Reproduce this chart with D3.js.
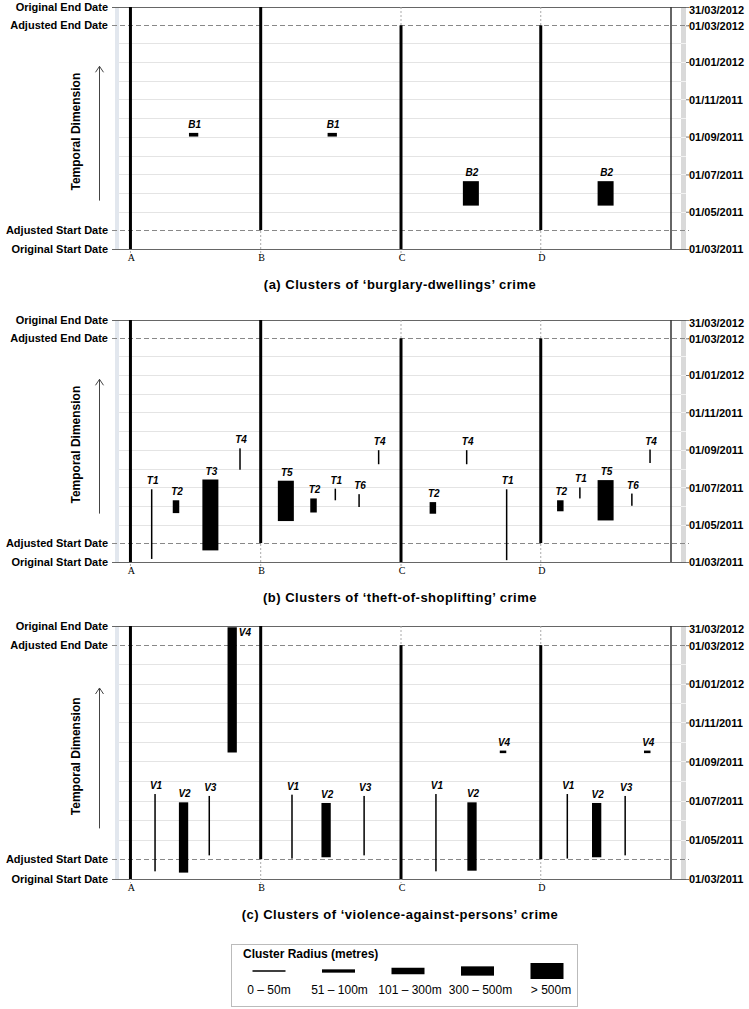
<!DOCTYPE html>
<html><head><meta charset="utf-8">
<script src="https://cdn.jsdelivr.net/npm/d3@7"></script>
<style>
html,body{margin:0;padding:0;background:#fff;}
svg{display:block;font-family:Arial,"Liberation Sans",sans-serif;}
</style></head>
<body>
<svg id="chart" width="749" height="1009"></svg>
<script>
// ---------------- DATA ----------------
const originalStart = "2011-03-01";
const originalEnd   = "2012-03-31";
const adjustedStart = "2011-04-01";
const adjustedEnd   = "2012-03-01";

const boundaryLabels = ["Original End Date","Adjusted End Date","Adjusted Start Date","Original Start Date"];
const boundaryDates  = [originalEnd, adjustedEnd, adjustedStart, originalStart];

const rightTickLabels = ["31/03/2012","01/03/2012","01/01/2012","01/11/2011","01/09/2011","01/07/2011","01/05/2011","01/03/2011"];

const sections = ["A","B","C","D"];
const sectionPositions = [3.3, 26.6, 51.7, 76.7];   // horizontal position (0-100 units)
const sectionStarts = [originalStart, adjustedStart, originalStart, adjustedStart];
const sectionEnds   = [originalEnd,   originalEnd,   adjustedEnd,   adjustedEnd];

const radiusClasses = ["0 – 50m","51 – 100m","101 – 300m","300 – 500m","> 500m"];

const captions = [
  "(a) Clusters of \u2018burglary-dwellings\u2019 crime",
  "(b) Clusters of \u2018theft-of-shoplifting\u2019 crime",
  "(c) Clusters of \u2018violence-against-persons\u2019 crime"
];

// cluster: label, position (0-100), start date, end date, radius class index
const burglaryClusters = [
  ["B1", 14.6, "2011-09-01", "2011-09-07", 3],
  ["B1", 39.4, "2011-09-01", "2011-09-07", 3],
  ["B2", 64.2, "2011-05-11", "2011-06-20", 4],
  ["B2", 88.3, "2011-05-11", "2011-06-20", 4]
];
const theftClusters = [
  ["T1",  7.1,  "2011-03-06", "2011-06-28", 0],
  ["T2", 11.45, "2011-05-20", "2011-06-10", 2],
  ["T3", 17.6,  "2011-03-20", "2011-07-14", 4],
  ["T4", 22.9,  "2011-07-30", "2011-09-03", 0],
  ["T5", 31.1,  "2011-05-07", "2011-07-12", 4],
  ["T2", 36.05, "2011-05-21", "2011-06-13", 2],
  ["T1", 39.95, "2011-06-10", "2011-06-29", 0],
  ["T6", 44.2,  "2011-05-30", "2011-06-20", 0],
  ["T4", 47.7,  "2011-08-08", "2011-08-31", 0],
  ["T2", 57.4,  "2011-05-19", "2011-06-07", 2],
  ["T4", 63.45, "2011-08-08", "2011-08-31", 0],
  ["T1", 70.6,  "2011-03-04", "2011-06-28", 0],
  ["T2", 80.2,  "2011-05-23", "2011-06-10", 2],
  ["T1", 83.7,  "2011-06-13", "2011-07-01", 0],
  ["T5", 88.3,  "2011-05-08", "2011-07-13", 4],
  ["T6", 93.0,  "2011-06-01", "2011-06-21", 0],
  ["T4", 96.25, "2011-08-10", "2011-09-01", 0]
];
const violenceClusters = [
  ["V1",  7.7,  "2011-03-13", "2011-07-12", 0],
  ["V2", 12.8,  "2011-03-11", "2011-06-29", 3],
  ["V3", 17.4,  "2011-04-07", "2011-07-09", 0],
  ["V4", 21.5,  "2011-09-15", "2012-03-29", 3],
  ["V1", 32.2,  "2011-04-02", "2011-07-11", 0],
  ["V2", 38.3,  "2011-04-04", "2011-06-28", 3],
  ["V3", 45.1,  "2011-04-07", "2011-07-09", 0],
  ["V1", 57.95, "2011-03-13", "2011-07-12", 0],
  ["V2", 64.4,  "2011-03-14", "2011-06-29", 3],
  ["V4", 69.95, "2011-09-14", "2011-09-18", 2],
  ["V1", 81.45, "2011-04-02", "2011-07-12", 0],
  ["V2", 86.7,  "2011-04-04", "2011-06-28", 3],
  ["V3", 91.8,  "2011-04-07", "2011-07-09", 0],
  ["V4", 95.75, "2011-09-14", "2011-09-18", 2]
];
const panelData = [burglaryClusters, theftClusters, violenceClusters];

// ---------------- LAYOUT ----------------
const svg = d3.select("#chart");
const parseISO = d3.timeParse("%Y-%m-%d");
const parseDMY = d3.timeParse("%d/%m/%Y");
const panels = [{top:7,bottom:249},{top:320,bottom:562},{top:626,bottom:879}];
const x = d3.scaleLinear().domain([0,100]).range([112,671]);
const widthScale = d3.scaleOrdinal().domain(d3.range(5)).range([1.5,3.3,6.5,9.3,16]);
const plotLeft = 112, bandL = 115, gridLeft = 119, plotRight = 671, bandR = 681, axisEnd = 689;
const font = 'Arial,"Liberation Sans",sans-serif';

panels.forEach((p, pi) => {
  const g = svg.append("g");
  const y = d3.scaleTime().domain([parseISO(originalStart), parseISO(originalEnd)]).range([p.bottom, p.top]);
  const months = d3.timeMonth.range(parseISO("2011-05-01"), parseISO("2012-03-01"));
  const allMonths = d3.timeMonth.range(parseISO("2011-04-01"), parseISO("2012-03-02"));

  // grid
  g.selectAll(".grid").data(months).join("line")
    .attr("x1", gridLeft).attr("x2", bandR)
    .attr("y1", d => Math.round(y(d))+0.5).attr("y2", d => Math.round(y(d))+0.5)
    .attr("stroke", "#e4e4e4").attr("stroke-width", 1);

  // side bands
  g.append("rect").attr("x", bandL).attr("y", p.top).attr("width", 4).attr("height", p.bottom-p.top).attr("fill", "#e2e7ee");
  g.append("rect").attr("x", bandR).attr("y", p.top).attr("width", 5).attr("height", p.bottom-p.top).attr("fill", "#d9d9d9");
  g.selectAll(".notch").data(allMonths).join("line")
    .attr("x1", bandR).attr("x2", bandR+5)
    .attr("y1", d => Math.round(y(d))+0.5).attr("y2", d => Math.round(y(d))+0.5)
    .attr("stroke", "#f2f2f2").attr("stroke-width", 1);

  // original start/end solid lines
  [originalEnd, originalStart].forEach(d => {
    const yy = Math.round(y(parseISO(d)))+0.5;
    g.append("line").attr("x1", plotLeft).attr("x2", axisEnd).attr("y1", yy).attr("y2", yy)
      .attr("stroke", "#666").attr("stroke-width", 1);
  });
  // adjusted dashed lines
  [adjustedEnd, adjustedStart].forEach(d => {
    const yy = Math.round(y(parseISO(d)))+0.5;
    g.append("line").attr("x1", plotLeft).attr("x2", axisEnd).attr("y1", yy).attr("y2", yy)
      .attr("stroke", "#888").attr("stroke-width", 1).attr("stroke-dasharray", "5,3");
  });

  // right border
  g.append("line").attr("x1", plotRight).attr("x2", plotRight).attr("y1", p.top).attr("y2", p.bottom)
    .attr("stroke", "#333").attr("stroke-width", 1.5);

  // section dividers
  sections.forEach((s, i) => {
    const xx = x(sectionPositions[i]);
    // dotted full guide
    g.append("line").attr("x1", xx).attr("x2", xx).attr("y1", p.top).attr("y2", p.bottom+4)
      .attr("stroke", "#aaa").attr("stroke-width", 1).attr("stroke-dasharray", "2,2");
    g.append("line").attr("x1", xx).attr("x2", xx)
      .attr("y1", y(parseISO(sectionEnds[i]))).attr("y2", y(parseISO(sectionStarts[i])))
      .attr("stroke", "#000").attr("stroke-width", 3);
    g.append("text").attr("x", xx+1).attr("y", p.bottom+12).attr("text-anchor", "middle")
      .attr("font-family", '"Liberation Serif","Times New Roman",serif').attr("font-size", 10)
      .text(s);
  });

  // left boundary labels
  boundaryLabels.forEach((lab, i) => {
    g.append("text").attr("x", 108).attr("y", y(parseISO(boundaryDates[i])))
      .attr("dy", "0.35em").attr("text-anchor", "end")
      .attr("font-family", font).attr("font-size", 11).attr("font-weight", "bold").text(lab);
  });

  // right axis
  const tickDates = rightTickLabels.map(parseDMY);
  const axis = d3.axisRight(y).tickValues(tickDates).tickSize(3).tickFormat(d3.timeFormat("%d/%m/%Y"));
  const ag = g.append("g").attr("transform", `translate(${bandR+5},0)`).call(axis);
  ag.select(".domain").remove();
  ag.selectAll(".tick line").attr("stroke", "#777");
  ag.selectAll(".tick text").attr("font-family", font).attr("font-size", 11).attr("font-weight", "bold")
    .attr("fill", "#000").attr("x", 3)
    .attr("dy", (d,i) => i === 0 ? "0.55em" : "0.35em");

  // temporal dimension label and arrow
  const h = p.bottom - p.top;
  g.append("text").attr("transform", `translate(80,${p.top + 0.515*h}) rotate(-90)`)
    .attr("text-anchor", "middle").attr("font-family", font).attr("font-size", 12).attr("font-weight", "bold")
    .text("Temporal Dimension");
  const ax = 99.5, ay1 = p.top + 0.245*h, ay2 = p.top + 0.80*h;
  g.append("line").attr("x1", ax).attr("x2", ax).attr("y1", ay1).attr("y2", ay2).attr("stroke", "#444").attr("stroke-width", 1);
  g.append("path").attr("d", `M${ax-4},${ay1+6} L${ax},${ay1} L${ax+4},${ay1+6}`)
    .attr("fill", "none").attr("stroke", "#444").attr("stroke-width", 1);

  // clusters
  const data = panelData[pi].map(r => ({label:r[0], pos:r[1], start:parseISO(r[2]), end:parseISO(r[3]), cls:r[4]}));
  g.selectAll(".cluster").data(data).join("rect")
    .attr("x", d => x(d.pos) - widthScale(d.cls)/2)
    .attr("y", d => y(d.end))
    .attr("width", d => widthScale(d.cls))
    .attr("height", d => Math.max(1, y(d.start) - y(d.end)))
    .attr("fill", "#000");
  g.selectAll(".clabel").data(data).join("text")
    .attr("x", d => (y(d.end) - 14 < p.top) ? x(d.pos) + widthScale(d.cls)/2 + 2 : x(d.pos) + 1)
    .attr("y", d => (y(d.end) - 14 < p.top) ? y(d.end) + 9 : y(d.end) - 5)
    .attr("text-anchor", d => (y(d.end) - 14 < p.top) ? "start" : "middle")
    .attr("font-family", font).attr("font-size", 10).attr("font-weight", "bold").attr("font-style", "italic")
    .text(d => d.label);

  // caption
  g.append("text").attr("x", 400).attr("y", p.bottom + 40).attr("text-anchor", "middle")
    .attr("font-family", font).attr("font-size", 13).attr("font-weight", "bold").attr("letter-spacing", "0.5px")
    .text(captions[pi]);
});

// ---------------- LEGEND ----------------
const lg = svg.append("g");
lg.append("rect").attr("x", 231.5).attr("y", 944.5).attr("width", 346).attr("height", 62)
  .attr("fill", "#fff").attr("stroke", "#bbb").attr("stroke-width", 1);
lg.append("text").attr("x", 243).attr("y", 958).attr("font-family", font).attr("font-size", 12)
  .attr("font-weight", "bold").text("Cluster Radius (metres)");
const legendX = d3.scalePoint().domain(radiusClasses).range([269, 547]);
const legendLabelX = d3.scalePoint().domain(radiusClasses).range([269, 551]);
radiusClasses.forEach((c, i) => {
  const w = widthScale(i);
  lg.append("rect").attr("x", legendX(c) - 16.5).attr("y", 971 - w/2).attr("width", 33).attr("height", w).attr("fill", "#000");
  lg.append("text").attr("x", legendLabelX(c)).attr("y", 994).attr("text-anchor", "middle")
    .attr("font-family", font).attr("font-size", 12).text(c);
});
</script>
</body></html>
